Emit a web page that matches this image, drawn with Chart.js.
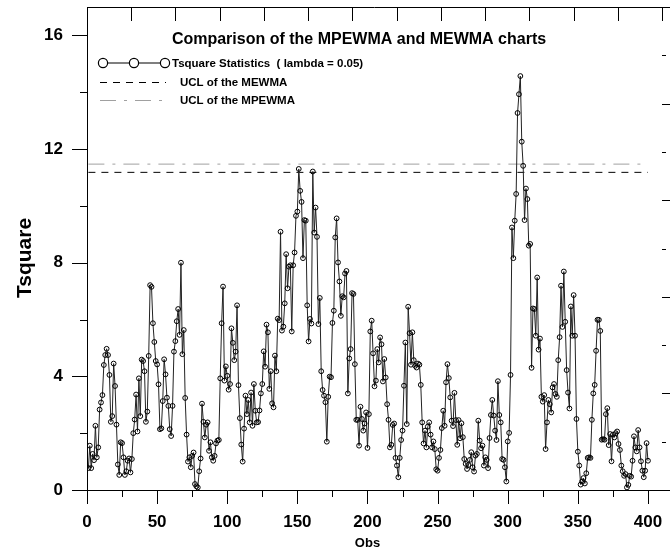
<!DOCTYPE html>
<html><head><meta charset="utf-8">
<script src="https://cdn.jsdelivr.net/npm/chart.js@4.4.1/dist/chart.umd.min.js"></script>
<style>html,body{margin:0;padding:0;background:#fff}canvas{display:block}</style>
</head><body>
<canvas id="c" width="670" height="550"></canvas>
<script>
// ---- data ----
const tsquare = [
0.77,1.56,0.77,1.27,1.05,2.26,1.15,1.5,2.83,3.08,3.34,4.4,4.75,4.97,4.75,4.05,2.4,2.6,4.45,3.66,
2.3,0.9,0.53,1.68,1.65,1.15,0.53,0.66,1.03,1.11,0.62,1.09,2.0,2.48,3.36,2.06,3.93,2.6,4.59,4.54,
4.18,2.4,2.76,4.72,7.21,7.15,5.87,5.21,4.54,4.42,3.72,2.14,2.17,3.13,4.6,4.07,3.25,2.96,2.14,1.9,
2.96,4.87,5.24,5.94,6.37,5.46,8.0,4.78,5.63,3.24,1.95,1.0,1.15,0.8,1.2,1.32,0.21,0.13,0.09,0.66,
1.11,3.04,2.4,1.85,2.3,2.38,1.38,1.68,1.15,1.03,1.2,1.64,1.74,1.76,3.93,5.87,7.16,3.85,4.35,4.02,
3.53,3.73,5.69,5.18,4.57,4.87,6.5,3.69,2.53,1.6,1.0,2.16,3.32,2.67,3.17,2.38,3.43,2.26,3.73,2.79,
2.38,2.39,2.8,3.4,3.73,4.88,4.34,5.82,5.55,3.56,4.18,3.05,2.91,4.73,4.18,6.03,5.98,9.09,5.61,5.75,
6.57,8.3,7.1,7.86,7.91,5.58,7.91,8.36,9.65,9.8,11.3,10.53,10.14,8.16,9.5,9.48,6.5,5.23,6.02,5.86,
11.21,9.06,9.94,8.91,5.84,6.76,4.18,3.52,3.32,3.09,1.7,3.28,3.99,3.97,5.88,6.31,8.89,9.56,8.01,7.34,
6.13,6.82,6.78,7.62,7.71,3.4,4.63,4.96,6.93,6.9,4.43,2.47,2.47,1.56,2.93,2.5,2.09,2.34,2.73,1.48,
2.67,5.58,5.96,4.81,3.65,3.85,4.96,4.49,5.37,5.13,3.82,4.61,3.96,3.02,2.47,1.5,1.59,2.29,2.34,1.13,
0.86,0.45,1.13,1.76,2.09,3.67,5.19,2.32,6.45,5.52,4.41,5.55,4.57,4.37,4.31,4.45,4.41,3.7,2.38,1.64,
2.09,1.5,2.23,2.38,1.95,1.5,1.71,1.44,0.73,0.68,1.13,1.41,2.18,2.79,2.26,3.79,4.43,3.94,3.26,2.44,
2.25,3.42,2.46,1.59,2.46,1.82,2.35,1.86,1.09,0.92,0.74,0.88,1.06,1.33,0.8,0.65,1.21,1.27,2.44,1.74,
1.47,1.56,0.86,1.15,1.06,0.77,1.83,2.64,3.17,2.62,2.09,1.76,3.83,2.64,2.38,1.09,1.06,0.8,0.3,1.71,
2.01,4.05,9.24,8.16,9.48,10.42,13.27,13.93,14.57,12.26,11.41,9.5,10.61,10.24,8.6,8.66,4.3,6.39,6.37,5.43,
7.48,4.94,5.33,3.28,3.11,3.34,1.44,2.38,3.17,3.02,2.73,3.61,3.73,3.38,3.28,4.57,5.38,7.19,5.74,7.69,
5.92,4.22,3.43,2.87,6.46,5.43,6.86,5.43,2.5,1.35,0.86,0.19,0.3,0.42,0.23,0.59,1.13,1.15,1.13,2.47,
3.4,3.7,4.9,5.99,5.99,5.6,1.77,1.79,1.77,2.67,2.88,1.58,1.97,1.01,1.95,1.85,2.0,2.06,1.62,1.41,
0.86,0.66,0.5,0.56,0.09,0.18,0.5,0.47,1.03,1.89,1.5,1.36,2.11,1.5,1.01,0.68,0.45,0.68,1.65,1.03
];
const obs = tsquare.map((_, i) => i + 1);
const uclMEWMA = 11.18;
const uclMPEWMA = 11.47;
const xTickLabels = [0, 50, 100, 150, 200, 250, 300, 350, 400];
const xMinorTicks = [25, 75, 125, 175, 225, 275, 325, 375];
const yTickLabels = [0, 4, 8, 12, 16];
const yMinorTicks = [2, 6, 10, 14];
const topTicks = [0,1,2,3,4,5,6,7,8,9,10,11,12,13];
const rightTicks = [0,0.5,1,1.5,2,2.5,3,3.5,4,4.5,5];
const titleText = 'Comparison of the MPEWMA and MEWMA charts';
const xTitle = 'Obs';
const yTitle = 'Tsquare';

const FONT = "'Liberation Sans', Arial, Helvetica, sans-serif";

const deco = {
  id: 'deco',
  afterDraw(chart) {
    const {ctx, chartArea: a, scales} = chart;
    const x = scales.x, y = scales.y, xt = scales.xTop, yr = scales.yRight;
    ctx.save();
    ctx.strokeStyle = '#000';
    ctx.lineWidth = 1;
    const seg = (x1, y1, x2, y2) => { ctx.beginPath(); ctx.moveTo(x1, y1); ctx.lineTo(x2, y2); ctx.stroke(); };
    const h = v => Math.round(v) + 0.5;
    // left axis ticks (outward)
    yTickLabels.forEach(v => { const p = h(y.getPixelForValue(v)); seg(a.left - 15, p, a.left, p); });
    yMinorTicks.forEach(v => { const p = h(y.getPixelForValue(v)); seg(a.left - 7, p, a.left, p); });
    // bottom axis ticks (outward)
    xTickLabels.forEach(v => { const p = h(x.getPixelForValue(v)); seg(p, a.bottom, p, a.bottom + 14); });
    xMinorTicks.forEach(v => { const p = h(x.getPixelForValue(v)); seg(p, a.bottom, p, a.bottom + 7); });
    // top frame + ticks (inward)
    seg(a.left, h(a.top), a.right, h(a.top));
    topTicks.forEach(v => { const p = h(xt.getPixelForValue(v)); seg(p, a.top, p, a.top + 14); });
    // right ticks (outward)
    rightTicks.forEach((v, i) => { const p = h(yr.getPixelForValue(v)); seg(a.right, p, a.right + (i % 2 ? 4 : 8), p); });

    // title
    ctx.fillStyle = '#000';
    ctx.textAlign = 'center';
    ctx.textBaseline = 'middle';
    ctx.font = 'bold 16px ' + FONT;
    ctx.fillText(titleText, 359, 40);

    // axis titles
    ctx.font = 'bold 13px ' + FONT;
    ctx.fillText(xTitle, x.getPixelForValue(200), 543);
    ctx.save();
    ctx.translate(25, 258);
    ctx.rotate(-Math.PI / 2);
    ctx.font = 'bold 21px ' + FONT;
    ctx.fillText(yTitle, 0, 0);
    ctx.restore();

    // legend
    const ds = chart.data.datasets;
    ctx.textAlign = 'left';
    ctx.font = 'bold 11.5px ' + FONT;
    let ly = 63;
    ctx.strokeStyle = '#000'; ctx.lineWidth = 1.2; ctx.setLineDash([]);
    seg(103, ly, 165, ly);
    [103, 134, 165].forEach(cx => {
      ctx.beginPath(); ctx.arc(cx, ly, 4.6, 0, Math.PI * 2);
      ctx.fillStyle = '#fff'; ctx.fill(); ctx.stroke();
    });
    ctx.fillStyle = '#000';
    ctx.fillText(ds[0].label, 172, ly + 0.5);
    ly = 82;
    ctx.lineWidth = 1; ctx.strokeStyle = ds[1].borderColor; ctx.setLineDash(ds[1].borderDash);
    seg(100, h(ly), 166, h(ly));
    ctx.setLineDash([]);
    ctx.fillText(ds[1].label, 180, ly + 0.5);
    ly = 100;
    ctx.strokeStyle = ds[2].borderColor; ctx.setLineDash(ds[2].borderDash);
    seg(100, h(ly), 166, h(ly));
    ctx.setLineDash([]);
    ctx.fillText(ds[2].label, 180, ly + 0.5);
    ctx.restore();
  }
};

new Chart(document.getElementById('c'), {
  type: 'line',
  data: {
    datasets: [
      {
        label: 'Tsquare Statistics  ( lambda = 0.05)',
        data: obs.map((o, i) => ({x: o, y: tsquare[i]})),
        borderColor: '#222',
        borderWidth: 1,
        pointRadius: 2.4,
        pointBorderWidth: 1,
        pointBorderColor: '#000',
        pointBackgroundColor: 'rgba(255,255,255,0)',
        tension: 0
      },
      {
        label: 'UCL of the MEWMA',
        data: [{x: obs[0], y: uclMEWMA}, {x: obs[obs.length - 1], y: uclMEWMA}],
        borderColor: '#000',
        borderWidth: 1,
        borderDash: [7, 6],
        pointRadius: 0
      },
      {
        label: 'UCL of the MPEWMA',
        data: [{x: obs[0], y: uclMPEWMA}, {x: obs[obs.length - 1], y: uclMPEWMA}],
        borderColor: '#a0a0a0',
        borderWidth: 1,
        borderDash: [16, 8, 3, 8],
        pointRadius: 0
      }
    ]
  },
  options: {
    responsive: false,
    animation: false,
    devicePixelRatio: 1,
    layout: {padding: {top: 7, right: 8, left: 0, bottom: 0}, autoPadding: false},
    plugins: {legend: {display: false}, tooltip: {enabled: false}, title: {display: false}},
    scales: {
      x: {
        type: 'linear', min: 0, max: 410,
        afterBuildTicks: s => { s.ticks = xTickLabels.map(v => ({value: v})); },
        afterFit: s => { s.height = 60; s.paddingLeft = 0; s.paddingRight = 0; },
        grid: {display: false, drawTicks: false},
        border: {display: true, color: '#000', width: 1},
        ticks: {padding: 22, color: '#000', maxRotation: 0, autoSkip: false,
                font: {family: FONT, weight: 'bold', size: 17}}
      },
      y: {
        type: 'linear', min: 0, max: 17,
        afterBuildTicks: s => { s.ticks = yTickLabels.map(v => ({value: v})); },
        afterFit: s => { s.width = 87; s.paddingTop = 0; s.paddingBottom = 0; },
        grid: {display: false, drawTicks: false},
        border: {display: true, color: '#000', width: 1},
        ticks: {padding: 24, color: '#000', font: {family: FONT, weight: 'bold', size: 17}}
      },
      xTop: {type: 'linear', position: 'top', min: 0, max: 13, display: false},
      yRight: {type: 'linear', position: 'right', min: 0, max: 5, display: false}
    }
  },
  plugins: [deco]
});
</script>
</body></html>
